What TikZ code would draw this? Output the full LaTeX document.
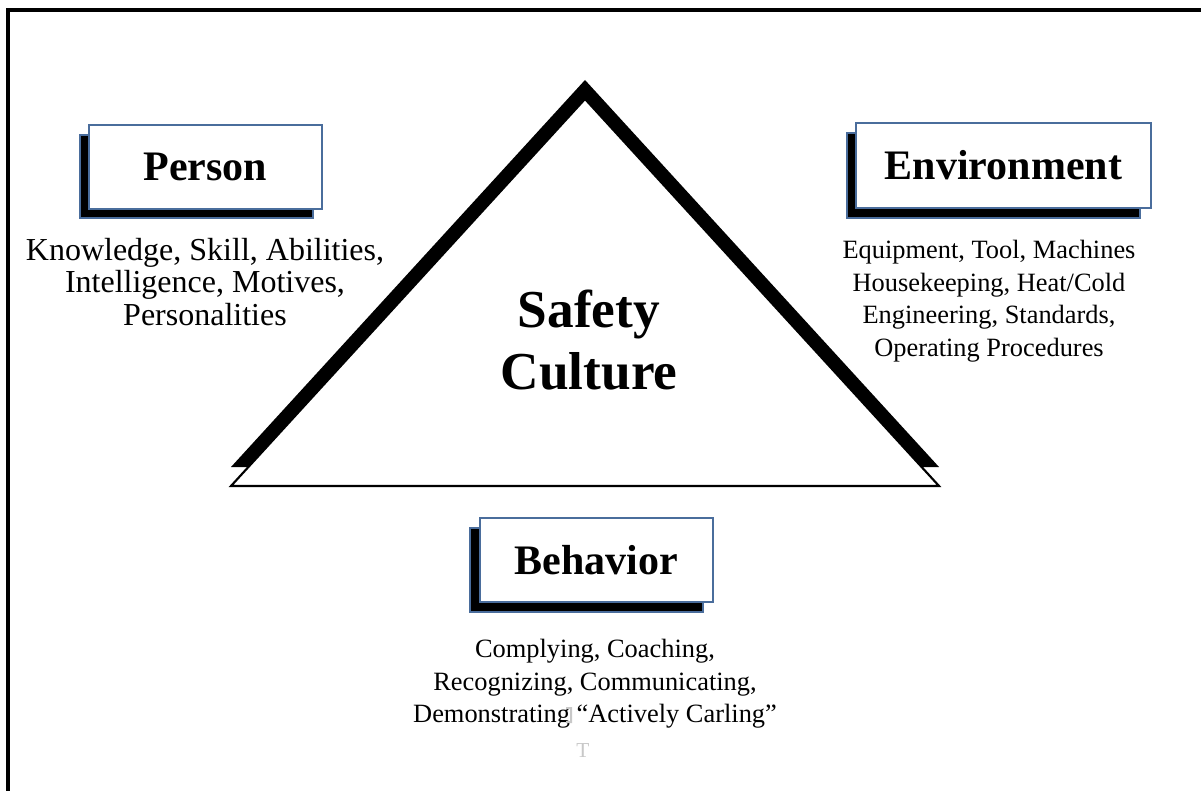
\documentclass[tikz,border=0pt]{standalone}
\usepackage{fontspec}
\setmainfont{Liberation Serif}
\definecolor{boxblue}{HTML}{4A6D9C}
\definecolor{ghost}{HTML}{C8C8C8}
\begin{document}
\begin{tikzpicture}[x=0.75pt,y=-0.75pt,
  titlebox/.style={draw=boxblue, line width=1.5pt, fill=white, inner sep=0pt,
    font=\fontsize{31.5}{32}\selectfont\bfseries},
  shadowbox/.style={draw=boxblue, line width=1.2pt, fill=black},
  bodytext/.style={align=center, font=\fontsize{24}{24.4}\selectfont, inner sep=0pt},
  smalltext/.style={align=center, font=\fontsize{19.8}{24.4}\selectfont, inner sep=0pt}]
\useasboundingbox (0,0) rectangle (1201,791);
\begin{scope}
  \clip (0,0) rectangle (1201,791);
  % page frame running off the right and bottom edges
  \draw[line width=2.4pt] (8,10) rectangle (1230,820);
\end{scope}

% triangle with its solid offset shadow
\fill (231,467) -- (585,80) -- (939,467) -- cycle;
\draw[line width=1.6pt, fill=white, line join=miter] (231,486) -- (585,99) -- (939,486) -- cycle;
\node[font=\fontsize{40}{46.5}\selectfont\bfseries, align=center] (culture) at (589,340) {Safety\\Culture};

% Person
\fill[shadowbox] (80,135) rectangle (313,218);
\node[titlebox, minimum width=233pt*0.75, minimum height=84pt*0.75] (person) at (205.5,167) {Person};
\node[bodytext] (persontext) at (205,282) {Knowledge, Skill, Abilities,\\Intelligence, Motives,\\Personalities};

% Environment
\fill[shadowbox] (847,133) rectangle (1140,218);
\node[titlebox, minimum width=295pt*0.75, minimum height=85pt*0.75] (environment) at (1003.5,165.5) {Environment};
\node[smalltext] (envtext) at (989,301) {Equipment, Tool, Machines\\Housekeeping, Heat/Cold\\Engineering, Standards,\\Operating Procedures};

% Behavior
\fill[shadowbox] (470,528) rectangle (703,612);
\node[titlebox, minimum width=233pt*0.75, minimum height=84pt*0.75] (behavior) at (596.5,560) {Behavior};
\node[smalltext] (behtext) at (595,684) {Complying, Coaching,\\Recognizing, Communicating,\\Demonstrating \textquotedblleft Actively Carling\textquotedblright};

% faint marks
\fill[ghost] (566,707) rectangle (572,709) (570,707) rectangle (572,723) (566,721) rectangle (572,723);
\node[text=ghost, font=\fontsize{16}{16}\selectfont, inner sep=0pt] (markT) at (583,751) {T};
\end{tikzpicture}
\end{document}
